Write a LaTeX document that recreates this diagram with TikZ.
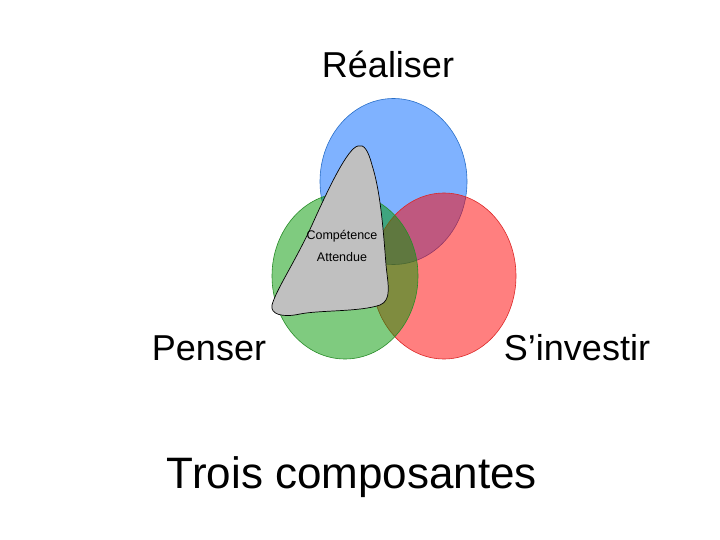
\documentclass[tikz,border=0pt]{standalone}
\usepackage{fontspec}
\setmainfont{Liberation Sans}
\begin{document}
\begin{tikzpicture}[x=1pt,y=-1pt,
  circ/.style={fill opacity=0.5,draw opacity=1,line width=0.6pt},
  big/.style={font=\fontsize{36}{40}\selectfont,inner sep=0pt},
  small/.style={font=\fontsize{12.5}{14}\selectfont,inner sep=0pt}]
\useasboundingbox (0,0) rectangle (720,540);
\fill[white] (0,0) rectangle (720,540);
\draw[circ,fill={rgb,255:red,0;green,102;blue,255},draw={rgb,255:red,40;green,110;blue,200}] (393.5,181.5) ellipse (73.5 and 83);
\draw[circ,fill={rgb,255:red,255;green,0;blue,0},draw={rgb,255:red,220;green,40;blue,40}] (444,276) ellipse (72 and 83);
\draw[circ,fill={rgb,255:red,0;green,153;blue,0},draw={rgb,255:red,40;green,140;blue,40}] (345,276) ellipse (73 and 83);
\draw[fill={rgb,255:red,192;green,192;blue,192},line width=0.7pt]
  (358,146) .. controls (348,148) and (330,185) .. (312,225)
  .. controls (295,262) and (276,290) .. (272,305)
  .. controls (270,314) and (282,318) .. (300,314)
  .. controls (320,310) and (360,312) .. (380,305)
  .. controls (392,300) and (388,285) .. (386,265)
  .. controls (383,225) and (380,190) .. (372,165)
  .. controls (368,150) and (364,144) .. (358,146) -- cycle;
\node[big] (r) at (388,64) {Réaliser};
\node[big] (p) at (209,348) {Penser};
\node[big] (s) at (577,348) {S’investir};
\node[font=\fontsize{44}{50}\selectfont,inner sep=0pt] (t) at (352,477) {Trois composantes};
\node[small] (c) at (342,236) {Compétence};
\node[small] (a) at (342,257) {Attendue};
\end{tikzpicture}
\end{document}
